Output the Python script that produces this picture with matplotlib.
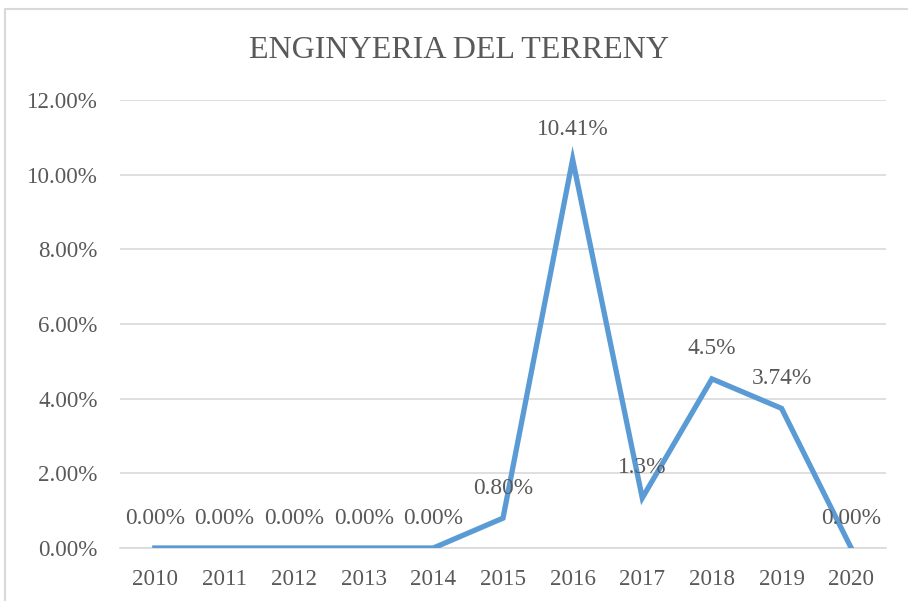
import matplotlib.pyplot as plt
from matplotlib.patches import Rectangle

# Dades
anys = ["2010", "2011", "2012", "2013", "2014", "2015", "2016", "2017", "2018", "2019", "2020"]
valors = [0.0, 0.0, 0.0, 0.0, 0.0, 0.80, 10.41, 1.34, 4.53, 3.74, 0.0]
etiquetes = ["0.00%", "0.00%", "0.00%", "0.00%", "0.00%", "0.80%", "10.41%", "1.3%", "4.5%", "3.74%", "0.00%"]
yticks = [0, 2, 4, 6, 8, 10, 12]

text_color = "#595959"
grid_color = "#D9D9D9"
line_color = "#5B9BD5"

plt.rcParams["font.family"] = ["Liberation Serif", "DejaVu Serif"]

fig = plt.figure(figsize=(9.08, 6.01), dpi=100)
ax = fig.add_axes([120 / 908, 1 - 548 / 601, (886 - 120) / 908, (548 - 100) / 601])

# Marc del gràfic
fig.patches.append(Rectangle((5 / 908, -0.05), 1.0, 1 - 9 / 601 + 0.05,
                             transform=fig.transFigure, fill=False,
                             edgecolor=grid_color, linewidth=1.5))

x = list(range(len(anys)))
ax.plot(x, valors, color=line_color, linewidth=3.8, solid_joinstyle="miter", zorder=3)

for xi, v, lab in zip(x, valors, etiquetes):
    ax.annotate(lab, xy=(xi, v), xytext=(0, 21.6), textcoords="offset points",
                ha="center", va="center", fontsize=16.8, color=text_color, zorder=4)

ax.set_xlim(-0.5, len(anys) - 0.5)
ax.set_ylim(0, 12)
ax.set_xticks(x)
ax.set_xticklabels(anys)
ax.set_yticks(yticks)
ax.set_yticklabels([f"{t:.2f}%" for t in yticks])

ax.tick_params(axis="both", length=0, labelsize=16.6, colors=text_color)
ax.tick_params(axis="y", pad=16)
ax.tick_params(axis="x", pad=15)
ax.grid(axis="y", color=grid_color, linewidth=1.2)
ax.set_axisbelow(True)
for s in ["top", "right", "left"]:
    ax.spines[s].set_visible(False)
ax.spines["bottom"].set_color(grid_color)
ax.spines["bottom"].set_linewidth(1.2)

fig.text(459 / 908, 1 - 50 / 601, "ENGINYERIA DEL TERRENY", ha="center", va="center",
         fontsize=23, color=text_color)

fig.savefig("out.png", dpi=100)
